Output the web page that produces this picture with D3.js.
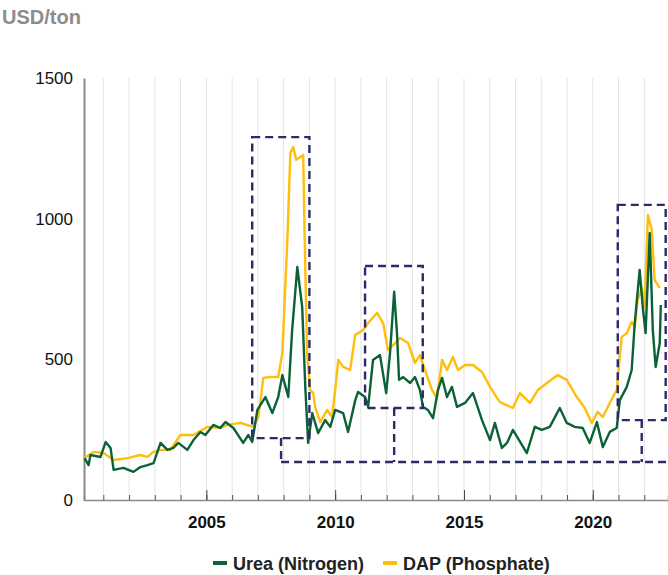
<!DOCTYPE html>
<html>
<head>
<meta charset="utf-8">
<script src="https://cdn.jsdelivr.net/npm/d3@7"></script>
<style>
  body { margin: 0; background: #fff; font-family: "Liberation Sans", Arial, sans-serif; }
</style>
</head>
<body>
<svg id="chart" width="668" height="575"></svg>
<script>
// Urea (Nitrogen) - decimal year / USD per ton
const ureaYears = [2000.27, 2000.43, 2000.50, 2000.89, 2001.09, 2001.28, 2001.40, 2001.78, 2002.17, 2002.44,
  2002.71, 2002.95, 2003.22, 2003.49, 2003.72, 2003.91, 2004.26, 2004.50, 2004.77, 2004.96,
  2005.27, 2005.54, 2005.74, 2006.05, 2006.43, 2006.63, 2006.78, 2006.98, 2007.29, 2007.56,
  2007.79, 2007.95, 2008.18, 2008.33, 2008.53, 2008.72, 2008.84, 2008.95, 2009.11, 2009.34,
  2009.61, 2009.81, 2010.00, 2010.31, 2010.50, 2010.78, 2010.89, 2011.16, 2011.28, 2011.47,
  2011.74, 2011.98, 2012.13, 2012.29, 2012.40, 2012.48, 2012.64, 2012.91, 2013.10, 2013.29,
  2013.41, 2013.60, 2013.80, 2013.99, 2014.15, 2014.34, 2014.53, 2014.73, 2015.04, 2015.35,
  2015.70, 2016.01, 2016.20, 2016.47, 2016.67, 2016.90, 2017.44, 2017.75, 2018.02, 2018.33,
  2018.72, 2018.99, 2019.30, 2019.61, 2019.88, 2020.16, 2020.39, 2020.66, 2020.93, 2021.05,
  2021.32, 2021.51, 2021.63, 2021.82, 2021.94, 2022.05, 2022.21, 2022.33, 2022.44, 2022.60, 2022.64];
const ureaValues = [149, 124, 160, 153, 206, 185, 107, 114, 100, 117,
  124, 131, 203, 178, 185, 203, 178, 213, 242, 231,
  267, 256, 277, 256, 203, 231, 206, 320, 366, 309,
  366, 444, 366, 604, 828, 686, 402, 203, 309, 238,
  284, 260, 320, 309, 242, 355, 384, 366, 331, 498,
  515, 380, 523, 740, 593, 427, 437, 416, 437, 391,
  331, 320, 291, 391, 434, 366, 402, 331, 345, 380,
  284, 213, 274, 185, 203, 249, 167, 260, 249, 260,
  327, 274, 260, 256, 203, 277, 188, 242, 256, 355,
  402, 462, 629, 818, 686, 593, 949, 604, 473, 558, 693];

// DAP (Phosphate)
const dapYears = [2000.27, 2000.62, 2001.01, 2001.40, 2001.94, 2002.44, 2002.71, 2002.95, 2003.22, 2003.60,
  2003.99, 2004.50, 2005.04, 2005.54, 2005.81, 2006.32, 2006.82, 2007.02, 2007.21, 2007.48,
  2007.79, 2007.95, 2008.14, 2008.26, 2008.37, 2008.49, 2008.76, 2008.80, 2008.91, 2009.03,
  2009.15, 2009.22, 2009.42, 2009.69, 2009.88, 2010.00, 2010.12, 2010.31, 2010.58, 2010.78,
  2011.09, 2011.28, 2011.63, 2011.86, 2012.05, 2012.33, 2012.52, 2012.83, 2013.10, 2013.29,
  2013.49, 2013.76, 2013.95, 2014.15, 2014.34, 2014.57, 2014.77, 2015.04, 2015.35, 2015.70,
  2016.01, 2016.28, 2016.40, 2016.90, 2017.17, 2017.56, 2017.87, 2018.22, 2018.64, 2018.99,
  2019.38, 2019.69, 2019.96, 2020.19, 2020.39, 2020.66, 2020.93, 2021.12, 2021.32, 2021.51,
  2021.63, 2021.74, 2021.90, 2022.01, 2022.14, 2022.29, 2022.40, 2022.60];
const dapValues = [149, 171, 167, 142, 149, 160, 153, 171, 178, 178,
  231, 231, 260, 256, 267, 274, 260, 295, 434, 437,
  437, 523, 914, 1233, 1255, 1209, 1226, 1006, 523, 391,
  380, 331, 277, 320, 295, 391, 498, 473, 462, 587,
  604, 629, 665, 629, 533, 558, 576, 558, 487, 515,
  462, 391, 363, 498, 462, 508, 462, 480, 480, 455,
  402, 363, 348, 327, 380, 345, 391, 416, 444, 427,
  366, 327, 274, 313, 295, 345, 391, 579, 593, 633,
  615, 711, 754, 686, 1013, 960, 782, 754];

const yTicks = [0, 500, 1000, 1500];
const majorYears = [2005, 2010, 2015, 2020];
const allYears = d3.range(2001, 2023);

// highlighted price spikes (dashed boxes) in data units, stems drop to a common baseline
const boxes = [
  { from: 2006.78, to: 2009.00, low: 220, high: 1290, stem: 2007.90 },
  { from: 2011.16, to: 2013.40, low: 327, high: 832, stem: 2012.29 },
  { from: 2020.97, to: 2022.83, low: 284, high: 1049, stem: 2021.90 }
];
const baseValue = 135;

const svg = d3.select('#chart');
const x = d3.scaleLinear().domain([2000.25, 2022.92]).range([84, 668]);
const y = d3.scaleLinear().domain([0, 1500]).range([500, 78]);

// title
svg.append('text')
  .attr('x', 2).attr('y', 24)
  .text('USD/ton')
  .style('font-size', '20px').style('font-weight', 'bold').style('fill', '#8c8c8c');

// vertical gridlines
svg.append('g').selectAll('line')
  .data(allYears).enter().append('line')
  .attr('x1', d => x(d)).attr('x2', d => x(d))
  .attr('y1', y(1500)).attr('y2', y(0))
  .attr('stroke', '#e3e3e3').attr('stroke-width', 1);

// y axis
const yAxis = svg.append('g')
  .attr('transform', 'translate(' + x.range()[0] + ',0)')
  .call(d3.axisLeft(y).tickValues(yTicks).tickSize(0).tickPadding(11).tickFormat(d3.format('d')));
yAxis.select('.domain').attr('stroke', '#8a8a8a').attr('stroke-width', 2);
yAxis.selectAll('text').style('font-size', '17px').style('fill', '#111')
  .style('font-family', '"Liberation Sans", Arial, sans-serif');

// x axis: minor ticks each year, major every five years with labels
const xMinor = svg.append('g')
  .attr('transform', 'translate(0,' + y(0) + ')')
  .call(d3.axisBottom(x).tickValues(allYears).tickSize(-5).tickFormat(''));
xMinor.select('.domain').attr('stroke', '#8a8a8a').attr('stroke-width', 1.5);
xMinor.selectAll('.tick line').attr('stroke', '#555');

const xMajor = svg.append('g')
  .attr('transform', 'translate(0,' + y(0) + ')')
  .call(d3.axisBottom(x).tickValues(majorYears).tickSize(-10).tickPadding(16).tickFormat(d3.format('d')));
xMajor.select('.domain').remove();
xMajor.selectAll('.tick line').attr('stroke', '#444');
xMajor.selectAll('text').style('font-size', '17px').style('font-weight', 'bold').style('fill', '#111')
  .style('font-family', '"Liberation Sans", Arial, sans-serif');

// lines
const line = d3.line().x(d => x(d[0])).y(d => y(d[1]));

svg.append('path')
  .datum(dapYears.map((d, i) => [d, dapValues[i]]))
  .attr('d', line)
  .attr('fill', 'none').attr('stroke', '#ffbe0b').attr('stroke-width', 2.4)
  .attr('stroke-linejoin', 'round');

svg.append('path')
  .datum(ureaYears.map((d, i) => [d, ureaValues[i]]))
  .attr('d', line)
  .attr('fill', 'none').attr('stroke', '#0b6236').attr('stroke-width', 2.4)
  .attr('stroke-linejoin', 'round');

// dashed annotation boxes
const dash = g => g.attr('fill', 'none').attr('stroke', '#2b2a6a')
  .attr('stroke-width', 2.4).attr('stroke-dasharray', '8,5');

boxes.forEach(b => {
  svg.append('rect')
    .attr('x', x(b.from)).attr('y', y(b.high))
    .attr('width', x(b.to) - x(b.from)).attr('height', y(b.low) - y(b.high))
    .call(dash);
  svg.append('line')
    .attr('x1', x(b.stem)).attr('x2', x(b.stem))
    .attr('y1', y(b.low)).attr('y2', y(baseValue))
    .call(dash);
});
svg.append('line')
  .attr('x1', x(boxes[0].stem)).attr('x2', x.range()[1])
  .attr('y1', y(baseValue)).attr('y2', y(baseValue))
  .call(dash);

// legend
const legend = [
  { name: 'Urea (Nitrogen)', color: '#0b6236', x: 213 },
  { name: 'DAP (Phosphate)', color: '#ffbe0b', x: 383 }
];
const lg = svg.append('g').selectAll('g').data(legend).enter().append('g')
  .attr('transform', d => 'translate(' + d.x + ',563)');
lg.append('line').attr('x1', 0).attr('x2', 14).attr('y1', 0).attr('y2', 0)
  .attr('stroke', d => d.color).attr('stroke-width', 4);
lg.append('text').attr('x', 20).attr('y', 6.5)
  .text(d => d.name)
  .style('font-size', '18px').style('font-weight', 'bold').style('fill', '#222');
</script>
</body>
</html>
